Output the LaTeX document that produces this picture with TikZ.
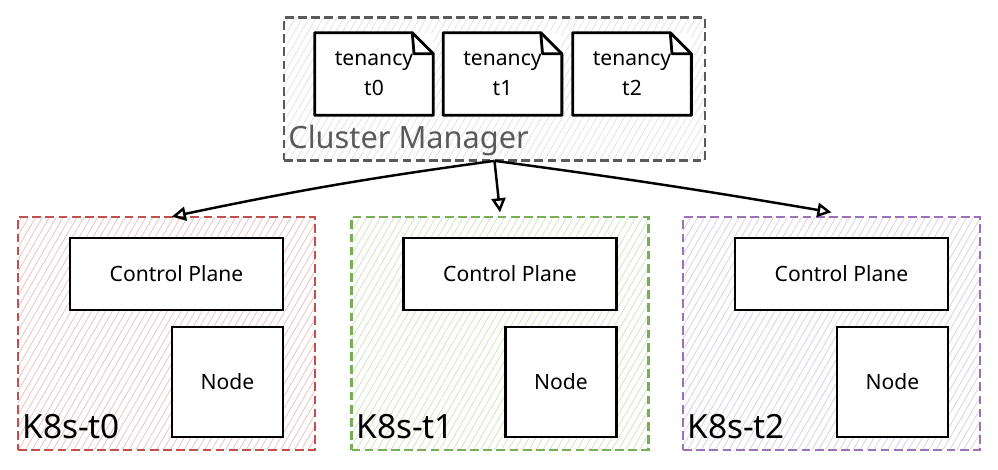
\documentclass[tikz,border=0pt]{standalone}
\usepackage{fontspec}
\setmainfont{Noto Sans}
\usetikzlibrary{arrows.meta,patterns.meta}

\definecolor{redline}{HTML}{C0504D}
\definecolor{greenline}{HTML}{78AE56}
\definecolor{purpleline}{HTML}{9A72B5}
\definecolor{grayline}{HTML}{5A5A5A}

\tikzset{
  cluster/.style={draw=#1, line width=1.4pt, dash pattern=on 5pt off 2.5pt,
    pattern={Lines[angle=60,distance=3.4pt,line width=0.45pt]}, pattern color=#1!35,
    minimum width=5.94cm, minimum height=4.66cm, inner sep=0pt},
  manager/.style={draw=grayline, line width=1.4pt, dash pattern=on 5pt off 2.5pt,
    pattern={Lines[angle=60,distance=3.4pt,line width=0.4pt]}, pattern color=black!12,
    minimum width=8.42cm, minimum height=2.86cm, inner sep=0pt},
  box/.style={draw=black, fill=white, line width=1.6pt, inner sep=0pt, font=\fontsize{12}{14}\selectfont},
  plane/.style={box, minimum width=4.26cm, minimum height=1.44cm},
  worker/.style={box, minimum width=2.22cm, minimum height=2.2cm},
  tenant/.style={fill=white, minimum width=2.36cm, minimum height=1.64cm, inner sep=0pt,
    align=center, font=\fontsize{12}{17}\selectfont},
  fold/.style={line width=1.6pt, line join=round},
  title/.style={inner sep=0pt, anchor=base west, font=\fontsize{19}{22}\selectfont},
  link/.style={-{Triangle[open,length=8pt,width=8pt]}, line width=1.4pt}
}

\begin{document}
\begin{tikzpicture}[x=0.02cm, y=-0.02cm]
        \useasboundingbox (0,0) rectangle (998,470);
        \node[manager] (cm) at (494.5,89) {};
        \node[tenant] (t0) at (374,74) {tenancy\\t0};
        \node[tenant] (t1) at (502.5,74) {tenancy\\t1};
        \node[tenant] (t2) at (632,74) {tenancy\\t2};
        \draw[fold] (t0.south west) |- ([xshift=-12pt]t0.north east) -- ([yshift=-12pt]t0.north east) |- (t0.south west) -- cycle;
        \draw[fold] ([xshift=-12pt]t0.north east) -- ([xshift=-11pt,yshift=-12pt]t0.north east) -- ([yshift=-12pt]t0.north east);
        \draw[fold] (t1.south west) |- ([xshift=-12pt]t1.north east) -- ([yshift=-12pt]t1.north east) |- (t1.south west) -- cycle;
        \draw[fold] ([xshift=-12pt]t1.north east) -- ([xshift=-11pt,yshift=-12pt]t1.north east) -- ([yshift=-12pt]t1.north east);
        \draw[fold] (t2.south west) |- ([xshift=-12pt]t2.north east) -- ([yshift=-12pt]t2.north east) |- (t2.south west) -- cycle;
        \draw[fold] ([xshift=-12pt]t2.north east) -- ([xshift=-11pt,yshift=-12pt]t2.north east) -- ([yshift=-12pt]t2.north east);
        \node[title, text=grayline, font=\fontsize{17.5}{20}\selectfont] (cmtitle) at (288,148) {Cluster Manager};

        \node[cluster=redline] (k8s0) at (166.5,333.5) {};
        \node[plane] (cp0) at (176.5,274) {Control Plane};
        \node[worker] (wn0) at (227.5,382) {Node};
        \node[title] (k8s0title) at (22,438) {K8s-t0};

        \node[cluster=greenline] (k8s1) at (500,333.5) {};
        \node[plane] (cp1) at (510,274) {Control Plane};
        \node[worker] (wn1) at (561,382) {Node};
        \node[title] (k8s1title) at (356,438) {K8s-t1};

        \node[cluster=purpleline] (k8s2) at (831.5,333.5) {};
        \node[plane] (cp2) at (841.5,274) {Control Plane};
        \node[worker] (wn2) at (892.5,382) {Node};
        \node[title] (k8s2title) at (687,438) {K8s-t2};

        \draw[link] (cm.south) to[bend right=2] ([xshift=3pt]k8s0.north);
        \draw[link] (cm.south) to ([yshift=2pt]k8s1.north);
        \draw[link] (cm.south) to[bend left=1] ([yshift=2pt]k8s2.north);
\end{tikzpicture}
\end{document}
